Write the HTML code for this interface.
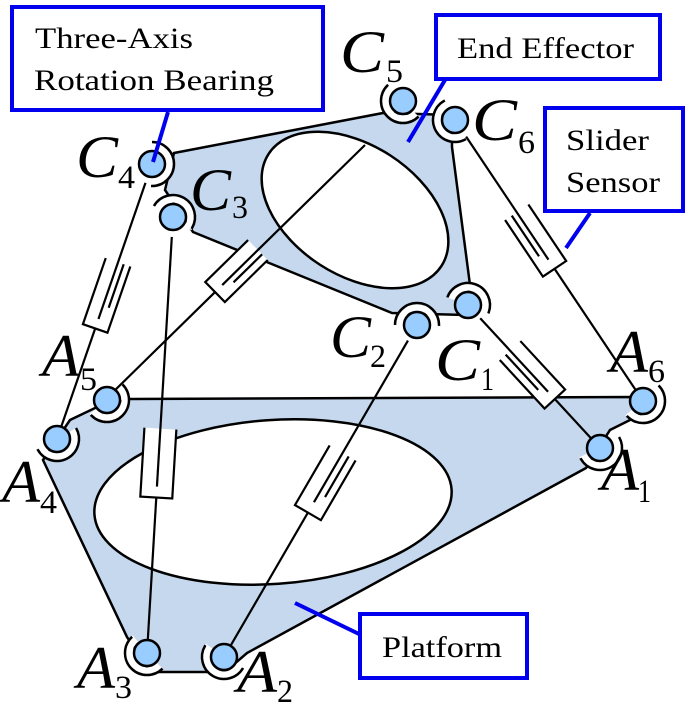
<!DOCTYPE html>
<html><head><meta charset="utf-8"><style>
html,body{margin:0;padding:0;background:#fff;}
svg{display:block;}
text{font-family:'Liberation Serif','Times New Roman',Times,serif;}
</style></head><body>
<svg width="685" height="713" viewBox="0 0 685 713" xmlns="http://www.w3.org/2000/svg">
<defs>
<g id="halo">
<circle r="18.5" fill="none" stroke="#fff" stroke-width="8" stroke-dasharray="60 200" transform="rotate(-90)"/>
<circle r="22" fill="none" stroke="#000" stroke-width="2.5" stroke-dasharray="70 200" transform="rotate(-90)"/>
</g>
</defs>
<path d="M130,399 L632,397 L640,415 L610,430 L586,468 L247,653 L225,672 L150,672 L127,637 L43,460 L70,420 L95,408 Z" fill="#c5d8ee" stroke="#000" stroke-width="2.5"/>
<ellipse cx="273" cy="502" rx="179" ry="82" transform="rotate(-4 273 502)" fill="#fff" stroke="#000" stroke-width="2.5"/>
<path d="M174,153 L383,113 L452,115 L452,147 L470,285 L465,315 L392,313 L193,232 L165,190 Z" fill="#c5d8ee" stroke="#000" stroke-width="2.5"/>
<ellipse cx="355" cy="210" rx="103" ry="65" transform="rotate(33 355 210)" fill="#fff" stroke="#000" stroke-width="2.5"/>

<g stroke="#000" stroke-width="2.2" fill="#fff">
<g transform="translate(152,164) rotate(19.06)"><line x1="0" y1="174" x2="0" y2="291"/><path d="M-13,104 V174 H13 V104"/><line x1="0" y1="20" x2="0" y2="164"/><line x1="6" y1="104" x2="6" y2="150"/></g>
<g transform="translate(173,217) rotate(3.41)"><line x1="0" y1="281" x2="0" y2="437"/><path d="M-16,212 V281 H16 V212"/><line x1="0" y1="20" x2="0" y2="270"/></g>
<g transform="translate(365,145) rotate(45.56)"><line x1="0" y1="210" x2="0" y2="350"/><path d="M-14,150 V210 H14 V150"/><line x1="0" y1="0" x2="0" y2="200"/><line x1="6" y1="150" x2="6" y2="190"/></g>
<g transform="translate(455,120) rotate(-33.79)"><line x1="0" y1="179" x2="0" y2="330"/><path d="M-14,111 V179 H14 V111"/><line x1="0" y1="20" x2="0" y2="168"/><line x1="-6" y1="111" x2="-6" y2="160"/></g>
<g transform="translate(468,305) rotate(-42.71)"><line x1="0" y1="128" x2="0" y2="190"/><path d="M-14,62 V128 H14 V62"/><line x1="0" y1="18" x2="0" y2="118"/><line x1="-6" y1="62" x2="-6" y2="110"/></g>
<g transform="translate(417,325) rotate(30.17)"><line x1="0" y1="217" x2="0" y2="380"/><path d="M-15,148 V217 H15 V148"/><line x1="0" y1="18" x2="0" y2="205"/><line x1="7" y1="148" x2="7" y2="195"/></g>
</g>

<g fill="#99ccff" stroke="#000" stroke-width="2.5">
<g transform="translate(403,101) rotate(135)"><use href="#halo"/></g><circle cx="403" cy="101" r="13"/>
<g transform="translate(455,120) rotate(150)"><use href="#halo"/></g><circle cx="455" cy="120" r="13"/>
<g transform="translate(152,164) rotate(0)"><use href="#halo"/></g><circle cx="152" cy="164" r="13"/>
<g transform="translate(173,217) rotate(-60)"><use href="#halo"/></g><circle cx="173" cy="217" r="13"/>
<g transform="translate(417,325) rotate(-90)"><use href="#halo"/></g><circle cx="417" cy="325" r="13"/>
<g transform="translate(468,305) rotate(-70)"><use href="#halo"/></g><circle cx="468" cy="305" r="13"/>
<g transform="translate(107,400) rotate(45)"><use href="#halo"/></g><circle cx="107" cy="400" r="13"/>
<g transform="translate(57,439) rotate(60)"><use href="#halo"/></g><circle cx="57" cy="439" r="13"/>
<g transform="translate(643,401) rotate(45)"><use href="#halo"/></g><circle cx="643" cy="401" r="13"/>
<g transform="translate(600,448) rotate(60)"><use href="#halo"/></g><circle cx="600" cy="448" r="13"/>
<g transform="translate(147,653) rotate(135)"><use href="#halo"/></g><circle cx="147" cy="653" r="13"/>
<g transform="translate(224,657) rotate(120)"><use href="#halo"/></g><circle cx="224" cy="657" r="13"/>
</g>

<g font-family="Liberation Serif, serif" fill="#000">
<g font-style="italic" font-size="60">
<text x="340" y="72" textLength="44" lengthAdjust="spacingAndGlyphs">C</text>
<text x="76" y="177" textLength="42" lengthAdjust="spacingAndGlyphs">C</text>
<text x="190" y="210" textLength="41" lengthAdjust="spacingAndGlyphs">C</text>
<text x="472" y="140" textLength="45" lengthAdjust="spacingAndGlyphs">C</text>
<text x="330" y="357" textLength="41" lengthAdjust="spacingAndGlyphs">C</text>
<text x="435" y="380" textLength="45" lengthAdjust="spacingAndGlyphs">C</text>
<text x="610" y="372" textLength="38" lengthAdjust="spacingAndGlyphs">A</text>
<text x="601" y="490" textLength="38" lengthAdjust="spacingAndGlyphs">A</text>
<text x="42" y="376" textLength="38" lengthAdjust="spacingAndGlyphs">A</text>
<text x="2" y="502" textLength="38" lengthAdjust="spacingAndGlyphs">A</text>
<text x="77" y="688" textLength="38" lengthAdjust="spacingAndGlyphs">A</text>
<text x="237" y="692" textLength="40" lengthAdjust="spacingAndGlyphs">A</text>
</g>
<g font-size="33">
<text x="386" y="82" textLength="17" lengthAdjust="spacingAndGlyphs">5</text>
<text x="118" y="188" textLength="17" lengthAdjust="spacingAndGlyphs">4</text>
<text x="232" y="218" textLength="16" lengthAdjust="spacingAndGlyphs">3</text>
<text x="518" y="153" textLength="17" lengthAdjust="spacingAndGlyphs">6</text>
<text x="370" y="367" textLength="16" lengthAdjust="spacingAndGlyphs">2</text>
<text x="481" y="390" textLength="13" lengthAdjust="spacingAndGlyphs">1</text>
<text x="648" y="382" textLength="17" lengthAdjust="spacingAndGlyphs">6</text>
<text x="638" y="502" textLength="13" lengthAdjust="spacingAndGlyphs">1</text>
<text x="80" y="390" textLength="17" lengthAdjust="spacingAndGlyphs">5</text>
<text x="40" y="513" textLength="17" lengthAdjust="spacingAndGlyphs">4</text>
<text x="115" y="698" textLength="17" lengthAdjust="spacingAndGlyphs">3</text>
<text x="277" y="702" textLength="16" lengthAdjust="spacingAndGlyphs">2</text>
</g>
</g>

<g stroke="#0000ee" stroke-width="4" fill="#fff">
<line x1="168" y1="112" x2="153" y2="162"/>
<line x1="445" y1="80" x2="408" y2="142"/>
<line x1="590" y1="213" x2="566" y2="248"/>
<line x1="359" y1="634" x2="295" y2="603"/>
<rect x="12" y="7" width="311" height="103"/>
<rect x="436" y="15" width="224" height="64"/>
<rect x="545" y="108" width="138" height="103"/>
<rect x="360" y="614" width="167" height="64"/>
</g>
<g font-family="Liberation Serif, serif" font-size="30" fill="#000">
<text x="35" y="48" textLength="158" lengthAdjust="spacingAndGlyphs">Three-Axis</text>
<text x="34" y="90" textLength="240" lengthAdjust="spacingAndGlyphs">Rotation Bearing</text>
<text x="457" y="58" textLength="177" lengthAdjust="spacingAndGlyphs">End Effector</text>
<text x="566" y="150" textLength="83" lengthAdjust="spacingAndGlyphs">Slider</text>
<text x="566" y="192" textLength="94" lengthAdjust="spacingAndGlyphs">Sensor</text>
<text x="382" y="657" textLength="120" lengthAdjust="spacingAndGlyphs">Platform</text>
</g>
</svg>
</body></html>
